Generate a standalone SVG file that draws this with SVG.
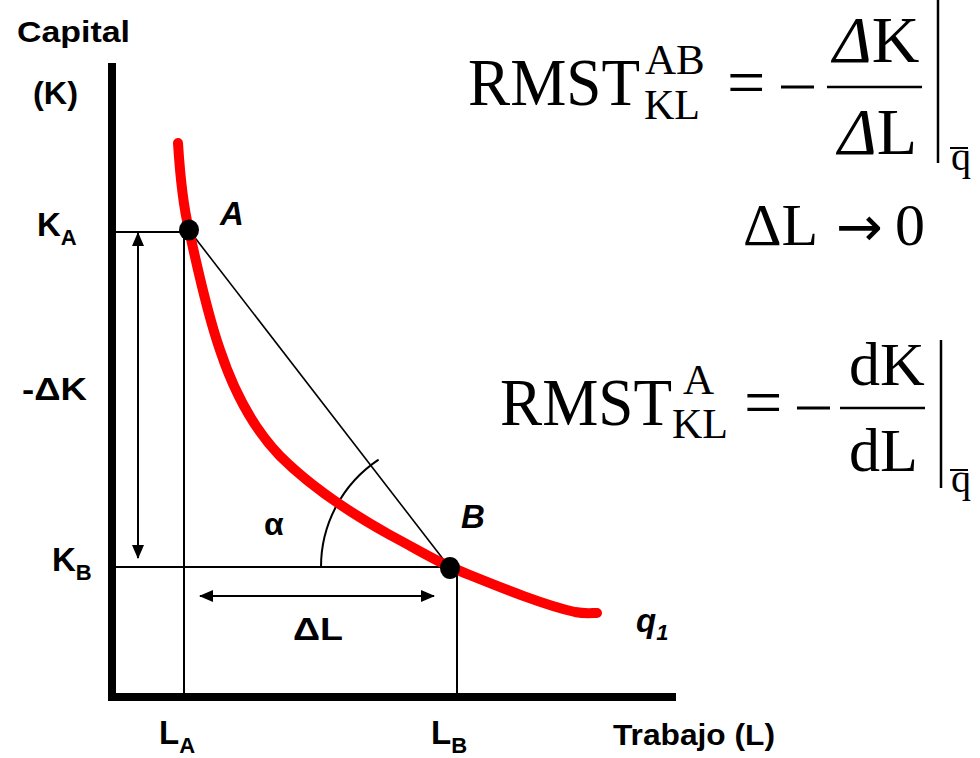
<svg xmlns="http://www.w3.org/2000/svg" width="980" height="758" viewBox="0 0 980 758">
<defs>
<marker id="ah" viewBox="0 0 14 12" refX="13" refY="6" markerWidth="14" markerHeight="12" markerUnits="userSpaceOnUse" orient="auto-start-reverse">
<path d="M0,0 L14,6 L0,12 Z" fill="#000"/>
</marker>
<style>
.lab{font-family:"Liberation Sans",Arial,sans-serif;font-weight:bold;fill:#000}
.it{font-style:italic}
.m{font-family:"Liberation Serif","Times New Roman",serif;fill:#000}
.thin{stroke:#000;stroke-width:2;fill:none}
.ax{stroke:#000;stroke-width:8;fill:none}
</style>
</defs>
<rect width="980" height="758" fill="#fff"/>
<g id="axes">
<line class="ax" x1="112" y1="63" x2="112" y2="701"/>
<line class="ax" x1="108" y1="697" x2="676" y2="697"/>
</g>
<g id="guides">
<line class="thin" x1="112" y1="232" x2="190" y2="232"/>
<line class="thin" x1="184" y1="232" x2="184" y2="697"/>
<line class="thin" x1="112" y1="567" x2="450" y2="567"/>
<line class="thin" x1="457" y1="567" x2="457" y2="697"/>
</g>
<g id="connectors">
<line x1="189" y1="230" x2="450" y2="568" stroke="#000" stroke-width="1.6"/>
<path class="thin" d="M321,567 A129,129 0 0 1 378.6,459.6"/>
<line class="thin" x1="138" y1="233" x2="138" y2="558" marker-start="url(#ah)" marker-end="url(#ah)"/>
<line class="thin" x1="200" y1="596" x2="434" y2="596" marker-start="url(#ah)" marker-end="url(#ah)"/>
</g>
<g id="curve">
<path d="M178,143 C180,175 183,205 189,230 C197,265 206,310 220,350 C235,395 255,430 280,456 C310,486 345,510 390,535 C420,551 440,563 455,569 C495,585 540,604 575,612 C585,614 592,613 597,613" fill="none" stroke="#ff0000" stroke-width="10" stroke-linecap="round" stroke-linejoin="round"/>
</g>
<g id="pointA"><ellipse cx="189" cy="230" rx="10" ry="10.5" fill="#000"/></g>
<g id="pointB"><ellipse cx="450" cy="568" rx="10" ry="11" fill="#000"/></g>
<g id="labels">
<text class="lab" x="17" y="42" font-size="30" textLength="113" lengthAdjust="spacingAndGlyphs">Capital</text>
<text class="lab" x="33" y="104" font-size="31" textLength="45" lengthAdjust="spacingAndGlyphs">(K)</text>
<text class="lab" x="37" y="236" font-size="33">K<tspan font-size="22" dy="9">A</tspan></text>
<text class="lab" x="22" y="400" font-size="31" textLength="65" lengthAdjust="spacingAndGlyphs">-ΔK</text>
<text class="lab" x="52" y="571" font-size="33">K<tspan font-size="22" dy="9">B</tspan></text>
<text class="lab it" x="220" y="225" font-size="33">A</text>
<text class="lab it" x="461" y="528" font-size="33">B</text>
<text class="lab" x="264" y="535" font-size="32">α</text>
<text class="lab" x="293" y="640" font-size="31" textLength="50" lengthAdjust="spacingAndGlyphs">ΔL</text>
<text class="lab it" x="636" y="632" font-size="33">q<tspan font-size="22" dy="8">1</tspan></text>
<text class="lab" x="159" y="744" font-size="33">L<tspan font-size="22" dy="9">A</tspan></text>
<text class="lab" x="431" y="744" font-size="33">L<tspan font-size="22" dy="9">B</tspan></text>
<text class="lab" x="613" y="745" font-size="29" textLength="162" lengthAdjust="spacingAndGlyphs">Trabajo (L)</text>
</g>
<g id="formula1">
<text class="m" x="468" y="105" font-size="68" textLength="172" lengthAdjust="spacingAndGlyphs">RMST</text>
<text class="m" x="645" y="74" font-size="43">AB</text>
<text class="m" x="644" y="119" font-size="42">KL</text>
<text class="m" x="727" y="105" font-size="68">=</text>
<line x1="781" y1="87" x2="814" y2="87" stroke="#000" stroke-width="3"/>
<line x1="827" y1="87" x2="922" y2="87" stroke="#000" stroke-width="2.5"/>
<text class="m" x="833" y="62" font-size="66"><tspan font-style="italic">Δ</tspan>K</text>
<text class="m" x="838" y="154" font-size="66"><tspan font-style="italic">Δ</tspan>L</text>
<line x1="938" y1="0" x2="938" y2="163" stroke="#000" stroke-width="2.5"/>
<text class="m" x="951" y="170" font-size="40">q</text>
<line x1="950" y1="148" x2="968" y2="148" stroke="#000" stroke-width="2"/>
<text class="m" x="743" y="245" font-size="60">ΔL</text>
<text x="836" y="246" font-size="56" font-family="'DejaVu Sans',sans-serif" fill="#000">→</text>
<text class="m" x="895" y="245" font-size="60">0</text>
</g>
<g id="formula2">
<text class="m" x="500" y="425" font-size="68" textLength="172" lengthAdjust="spacingAndGlyphs">RMST</text>
<text class="m" x="683" y="394" font-size="43">A</text>
<text class="m" x="672" y="438" font-size="42">KL</text>
<text class="m" x="744" y="425" font-size="68">=</text>
<line x1="797" y1="408" x2="830" y2="408" stroke="#000" stroke-width="3"/>
<line x1="840" y1="408" x2="925" y2="408" stroke="#000" stroke-width="2.5"/>
<text class="m" x="849" y="385" font-size="62">dK</text>
<text class="m" x="849" y="471" font-size="62">dL</text>
<line x1="941" y1="340" x2="941" y2="488" stroke="#000" stroke-width="2.5"/>
<text class="m" x="951" y="492" font-size="40">q</text>
<line x1="950" y1="470" x2="968" y2="470" stroke="#000" stroke-width="2"/>
</g>
</svg>
